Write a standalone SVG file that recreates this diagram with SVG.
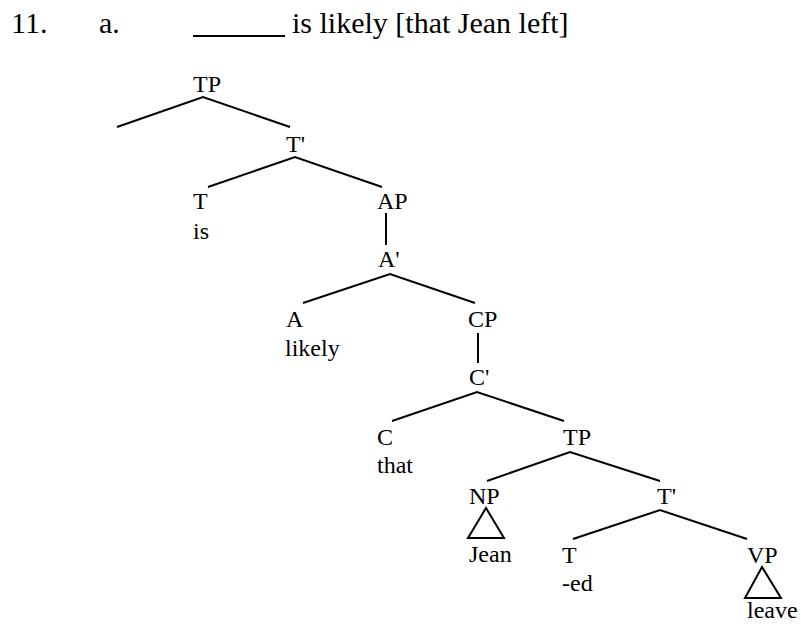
<svg xmlns="http://www.w3.org/2000/svg" width="801" height="624" viewBox="0 0 801 624">
<style>
text{font-family:"Liberation Serif","Times New Roman",serif;fill:#000}
.t{font-size:30px}
.n{font-size:24px}
.e{stroke:#000;stroke-width:2;fill:none;stroke-linecap:butt}
</style>
<rect width="801" height="624" fill="#fff"/>
<g id="title">
<text class="t" x="11" y="33">11.</text>
<text class="t" x="99" y="33">a.</text>
<line class="e" x1="193" y1="36" x2="285" y2="36"/>
<text class="t" x="292" y="33">is likely [that Jean left]</text>
</g>
<g id="edges">
<polyline class="e" points="117,127 203,97 290,127"/>
<polyline class="e" points="208,187 295,157 382,187"/>
<line class="e" x1="386" y1="213" x2="386" y2="245"/>
<polyline class="e" points="303,303 390,274 475,303"/>
<line class="e" x1="478" y1="333" x2="478" y2="363"/>
<polyline class="e" points="392,421 477,392 564,421"/>
<polyline class="e" points="487,481 570,452 660,481"/>
<polyline class="e" points="573,539 660,510 747,539"/>
<polygon class="e" points="486,508 468,538 504,538"/>
<polygon class="e" points="762,567 745,598 781,598"/>
</g>
<g id="TP1"><text class="n" x="193" y="92">TP</text></g>
<g id="Tbar1"><text class="n" x="286" y="152">T'</text></g>
<g id="T1"><text class="n" x="193" y="209">T</text><text class="n" x="193" y="239">is</text></g>
<g id="AP"><text class="n" x="377" y="209">AP</text></g>
<g id="Abar"><text class="n" x="378" y="267">A'</text></g>
<g id="A"><text class="n" x="286" y="327">A</text><text class="n" x="285" y="356">likely</text></g>
<g id="CP"><text class="n" x="468" y="327">CP</text></g>
<g id="Cbar"><text class="n" x="469" y="385">C'</text></g>
<g id="C"><text class="n" x="377" y="445">C</text><text class="n" x="377" y="473">that</text></g>
<g id="TP2"><text class="n" x="563" y="445">TP</text></g>
<g id="NP"><text class="n" x="469" y="504">NP</text><text class="n" x="469" y="562">Jean</text></g>
<g id="Tbar2"><text class="n" x="657" y="504">T'</text></g>
<g id="T2"><text class="n" x="562" y="563">T</text><text class="n" x="562" y="591">-ed</text></g>
<g id="VP"><text class="n" x="747" y="563">VP</text><text class="n" x="747" y="618">leave</text></g>
</svg>
